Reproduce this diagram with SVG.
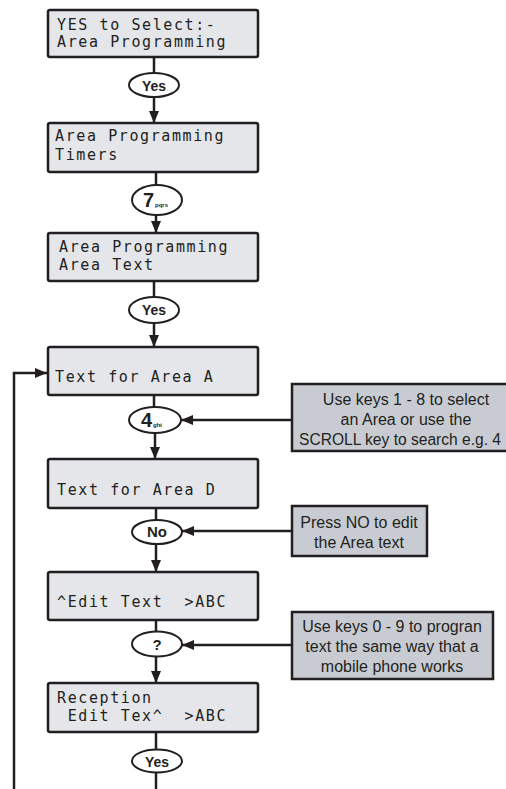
<svg xmlns="http://www.w3.org/2000/svg" width="506" height="789" viewBox="0 0 506 789">
<style>
.lcd{fill:#e4e6ea;stroke:#231f20;stroke-width:2.5}
.call{fill:#c8ccd2;stroke:#231f20;stroke-width:2.5}
.key{fill:#fff;stroke:#231f20;stroke-width:2}
.lt{font-family:"DejaVu Sans Mono","Liberation Mono",monospace;font-size:15px;letter-spacing:1.6px;fill:#231f20;white-space:pre}
.ct{font-family:"Liberation Sans",Arial,sans-serif;font-size:16px;fill:#231f20;text-anchor:middle}
.kt{font-family:"Liberation Sans",Arial,sans-serif;font-weight:bold;font-size:15px;fill:#231f20;text-anchor:middle}
.kb{font-family:"Liberation Sans",Arial,sans-serif;font-weight:bold;font-size:20px;fill:#231f20}
.ks{font-family:"Liberation Sans",Arial,sans-serif;font-weight:bold;font-size:6px;fill:#231f20}
.cn{stroke:#231f20;stroke-width:2.5;fill:none}
</style>
<defs>
<marker id="ah" viewBox="0 0 12 10" refX="12" refY="5" markerWidth="12" markerHeight="10" markerUnits="userSpaceOnUse" orient="auto"><path d="M0,0 L12,5 L0,10 z" fill="#231f20"/></marker>
</defs>
<g id="connectors">
<line class="cn" x1="154" y1="57" x2="154" y2="73"/>
<line class="cn" x1="154" y1="97" x2="154" y2="123" marker-end="url(#ah)"/>
<line class="cn" x1="156" y1="172" x2="156" y2="185"/>
<line class="cn" x1="156" y1="215" x2="156" y2="233" marker-end="url(#ah)"/>
<line class="cn" x1="154" y1="281" x2="154" y2="297"/>
<line class="cn" x1="154" y1="323" x2="154" y2="347" marker-end="url(#ah)"/>
<line class="cn" x1="154" y1="395" x2="154" y2="407"/>
<line class="cn" x1="155" y1="433" x2="155" y2="459" marker-end="url(#ah)"/>
<line class="cn" x1="156" y1="508" x2="156" y2="520"/>
<line class="cn" x1="156" y1="543" x2="156" y2="572" marker-end="url(#ah)"/>
<line class="cn" x1="156" y1="620" x2="156" y2="632"/>
<line class="cn" x1="156" y1="657" x2="156" y2="683" marker-end="url(#ah)"/>
<line class="cn" x1="156" y1="732" x2="156" y2="750"/>
<line class="cn" x1="156" y1="773" x2="156" y2="789"/>
<line class="cn" x1="292" y1="420" x2="181" y2="420" marker-end="url(#ah)"/>
<line class="cn" x1="292" y1="531" x2="182" y2="531" marker-end="url(#ah)"/>
<line class="cn" x1="292" y1="645" x2="182" y2="645" marker-end="url(#ah)"/>
<path class="cn" d="M14,789 V373 H47" marker-end="url(#ah)"/>
</g>
<g id="box1"><rect class="lcd" x="48" y="10" width="210" height="47" rx="2"/>
<text class="lt" x="57" y="30">YES to Select:-</text><text class="lt" x="57" y="47">Area Programming</text></g>
<g id="key1"><ellipse class="key" cx="154" cy="85" rx="25" ry="12"/><text class="kt" x="154" y="91" textLength="24" lengthAdjust="spacingAndGlyphs">Yes</text></g>
<g id="box2"><rect class="lcd" x="48" y="123" width="210" height="49" rx="2"/>
<text class="lt" x="55" y="141">Area Programming</text><text class="lt" x="55" y="160">Timers</text></g>
<g id="key2"><ellipse class="key" cx="157" cy="200" rx="25" ry="15"/><text class="kb" x="143" y="207">7</text><text class="ks" x="155" y="207">pqrs</text></g>
<g id="box3"><rect class="lcd" x="48" y="233" width="210" height="48" rx="2"/>
<text class="lt" x="59" y="252">Area Programming</text><text class="lt" x="59" y="270">Area Text</text></g>
<g id="key3"><ellipse class="key" cx="154" cy="310" rx="25" ry="13"/><text class="kt" x="154" y="315" textLength="24" lengthAdjust="spacingAndGlyphs">Yes</text></g>
<g id="box4"><rect class="lcd" x="48" y="347" width="210" height="48" rx="2"/>
<text class="lt" x="55" y="382">Text for Area A</text></g>
<g id="key4"><ellipse class="key" cx="155" cy="420" rx="26" ry="13"/><text class="kb" x="141" y="427">4</text><text class="ks" x="153" y="427">ghi</text></g>
<g id="note1"><rect class="call" x="292" y="384" width="220" height="67"/>
<text class="ct" x="406" y="405">Use keys 1 - 8 to select</text><text class="ct" x="406" y="425">an Area or use the</text><text class="ct" x="400" y="445" textLength="202" lengthAdjust="spacingAndGlyphs">SCROLL key to search e.g. 4</text></g>
<g id="box5"><rect class="lcd" x="48" y="459" width="210" height="49" rx="2"/>
<text class="lt" x="57" y="495">Text for Area D</text></g>
<g id="key5"><ellipse class="key" cx="157" cy="532" rx="25" ry="12"/><text class="kt" x="157" y="537">No</text></g>
<g id="note2"><rect class="call" x="292" y="506" width="135" height="50"/>
<text class="ct" x="359" y="528">Press NO to edit</text><text class="ct" x="359" y="548">the Area text</text></g>
<g id="box6"><rect class="lcd" x="48" y="572" width="210" height="48" rx="2"/>
<text class="lt" x="57" y="607">^Edit Text  &gt;ABC</text></g>
<g id="key6"><ellipse class="key" cx="157" cy="644" rx="25" ry="12.5"/><text class="kt" x="157" y="650">?</text></g>
<g id="note3"><rect class="call" x="292" y="612" width="201" height="67"/>
<text class="ct" x="392" y="632">Use keys 0 - 9 to progran</text><text class="ct" x="392" y="652">text the same way that a</text><text class="ct" x="392" y="672">mobile phone works</text></g>
<g id="box7"><rect class="lcd" x="48" y="683" width="210" height="49" rx="2"/>
<text class="lt" x="57" y="703">Reception</text><text class="lt" x="57" y="721"> Edit Tex^  &gt;ABC</text></g>
<g id="key7"><ellipse class="key" cx="157" cy="761" rx="25" ry="11.5"/><text class="kt" x="157" y="767" textLength="24" lengthAdjust="spacingAndGlyphs">Yes</text></g>
</svg>
